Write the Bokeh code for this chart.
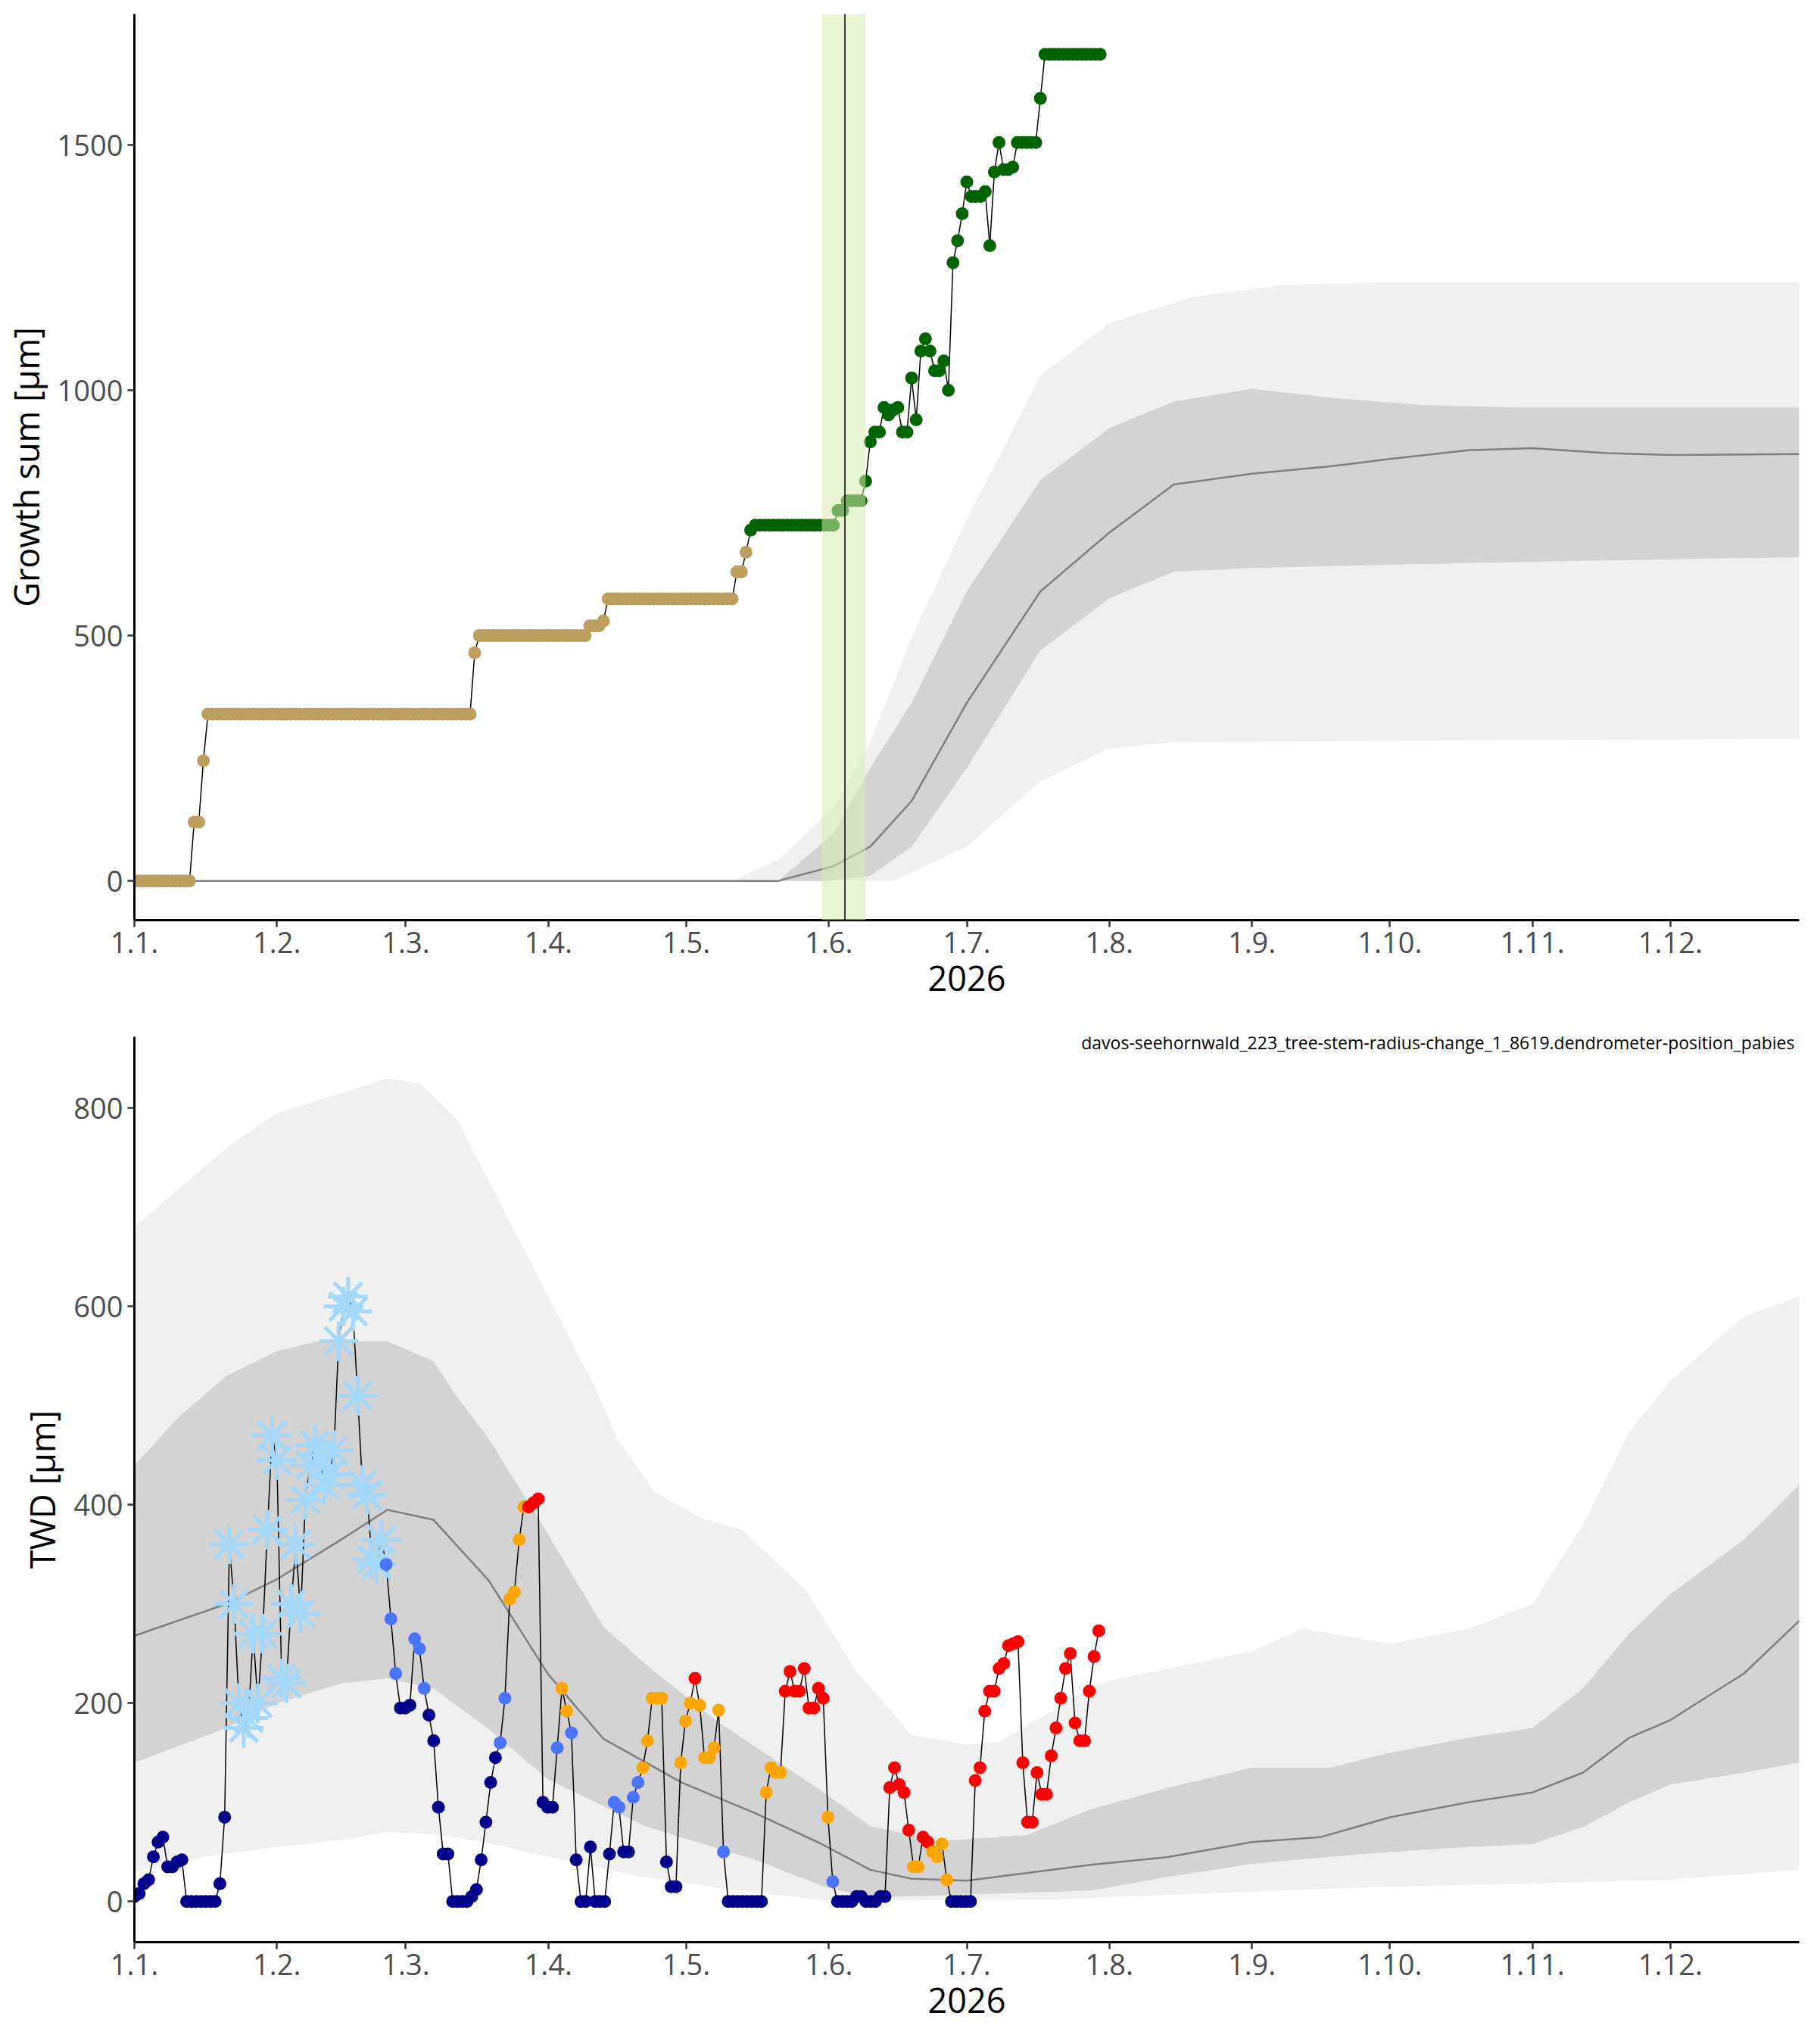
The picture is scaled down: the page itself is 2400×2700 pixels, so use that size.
import numpy as np
from bokeh.plotting import figure
from bokeh.layouts import column
from bokeh.models import FixedTicker, Range1d, Label, Span, BoxAnnotation
from bokeh.embed import file_html
from bokeh.resources import INLINE

month_days = [0, 31, 59, 90, 120, 151, 181, 212, 243, 273, 304, 334]
month_labels = ["1.1.", "1.2.", "1.3.", "1.4.", "1.5.", "1.6.", "1.7.", "1.8.", "1.9.", "1.10.", "1.11.", "1.12."]

# ---- Growth sum (top) ----
gro_segments = [(0, 12, 0), (13, 14, 120), (15, 15, 245), (16, 73, 340), (74, 74, 465), (75, 98, 500),
                (99, 101, 520), (102, 102, 530), (103, 130, 575), (131, 132, 630), (133, 133, 670),
                (134, 134, 715), (135, 152, 725), (153, 154, 755), (155, 158, 775), (159, 159, 815),
                (160, 160, 895), (161, 162, 915), (163, 163, 965), (164, 164, 950), (165, 165, 960),
                (166, 166, 965), (167, 168, 915), (169, 169, 1025), (170, 170, 940), (171, 171, 1080),
                (172, 172, 1105), (173, 173, 1080), (174, 175, 1040), (176, 176, 1060), (177, 177, 1000),
                (178, 178, 1260), (179, 179, 1305), (180, 180, 1360), (181, 181, 1425), (182, 184, 1395),
                (185, 185, 1405), (186, 186, 1295), (187, 187, 1445), (188, 188, 1505), (189, 190, 1450),
                (191, 191, 1455), (192, 196, 1505), (197, 197, 1595), (198, 210, 1685)]
gro_green_from = 134

gro_med_d = [0, 140, 152, 160, 169, 181, 197, 212, 226, 243, 260, 273, 290, 304, 320, 334, 362]
gro_med_v = [0, 0, 30, 70, 163, 363, 590, 710, 808, 830, 845, 860, 878, 882, 872, 868, 870]
gro_in_up_d = [0, 140, 152, 160, 169, 181, 197, 212, 226, 243, 260, 280, 300, 362]
gro_in_up = [0, 0, 96, 230, 363, 590, 817, 923, 977, 1003, 985, 970, 965, 965]
gro_in_lo_d = [0, 150, 160, 169, 181, 197, 212, 226, 243, 300, 362]
gro_in_lo = [0, 0, 10, 70, 230, 470, 576, 630, 638, 650, 660]
gro_out_up_d = [0, 130, 140, 152, 160, 169, 181, 190, 197, 212, 230, 250, 270, 362]
gro_out_up = [0, 0, 43, 150, 283, 496, 737, 900, 1030, 1137, 1190, 1215, 1220, 1220]
gro_out_lo_d = [0, 165, 181, 197, 212, 226, 362]
gro_out_lo = [0, 0, 70, 203, 270, 283, 290]

# ---- TWD (bottom) ----
twd_vals = [5, 8, 18, 22, 45, 60, 65, 35, 35, 40, 42, 0, 0, 0, 0, 0, 0, 0, 18, 85,
            360, 300, 200, 175, 185, 270, 200, 270, 375, 470, 445, 225, 220, 300, 360, 290, 405, 440, 460, 450,
            420, 430, 455, 565, 600, 610, 595, 510, 420, 410, 345, 340, 365, 340, 285, 230, 195, 195, 198, 265,
            255, 215, 188, 162, 95, 48, 48, 0, 0, 0, 0, 5, 12, 42, 80, 120, 145, 160, 205, 305,
            312, 365, 398, 398, 402, 406, 100, 95, 95, 155, 215, 192, 170, 42, 0, 0, 55, 0, 0, 0,
            48, 100, 95, 50, 50, 105, 120, 135, 162, 205, 205, 205, 40, 15, 15, 140, 182, 200, 225, 198,
            145, 145, 155, 193, 50, 0, 0, 0, 0, 0, 0, 0, 0, 110, 135, 130, 130, 212, 232, 212,
            212, 235, 195, 195, 215, 205, 85, 20, 0, 0, 0, 0, 5, 5, 0, 0, 0, 5, 5, 115,
            135, 118, 110, 72, 35, 35, 65, 60, 50, 45, 58, 22, 0, 0, 0, 0, 0, 122, 135, 192,
            212, 212, 235, 240, 258, 260, 262, 140, 80, 80, 130, 108, 108, 147, 175, 205, 235, 250, 180, 162,
            162, 212, 247, 273]
twd_cat = ("n" * 20
           + "s" * 20
           + "s" * 13 + "bbb" + "nnn" + "b"
           + "bb" + "n" * 15 + "bbo"
           + "ooo" + "rrr" + "nnn" + "b" + "oo" + "b" + "n" * 7
           + "nbbnnbb" + "ooooo" + "nnn" + "ooo" + "r" + "o"
           + "oooo" + "b" + "n" * 8 + "oooo" + "rrr"
           + "rrrrrr" + "o" + "b" + "n" * 11 + "r"
           + "rrrr" + "oo" + "rr" + "oooo" + "nnnnn" + "rrr"
           + "r" * 24)
twd_day_scale = 209.7 / 203.0

twd_med_d = [0, 20, 31, 45, 55, 65, 77, 90, 102, 119, 135, 149, 160, 169, 181, 208, 225, 243, 258, 273, 290, 304, 315, 325, 334, 350, 362]
twd_med_v = [268, 300, 325, 365, 395, 385, 324, 229, 164, 120, 89, 59, 32, 23, 21, 37, 45, 60, 65, 85, 100, 110, 130, 165, 183, 230, 283]
twd_in_d = [0, 10, 20, 31, 40, 55, 65, 70, 77, 90, 102, 113, 127, 149, 160, 175, 194, 208, 225, 243, 260, 273, 290, 304, 315, 325, 334, 350, 362]
twd_in_up = [440, 490, 530, 555, 565, 565, 545, 510, 467, 370, 277, 232, 181, 113, 76, 61, 67, 93, 115, 135, 135, 150, 165, 175, 215, 270, 310, 365, 420]
twd_in_lo_d = [0, 20, 31, 45, 55, 65, 77, 90, 111, 135, 150, 160, 208, 225, 243, 260, 273, 290, 304, 315, 325, 334, 350, 362]
twd_in_lo = [140, 175, 200, 220, 225, 215, 174, 123, 76, 42, 15, 4, 11, 25, 38, 45, 50, 55, 58, 75, 100, 118, 130, 140]
twd_out_d = [0, 20, 31, 45, 55, 62, 70, 80, 90, 100, 105, 113, 124, 132, 146, 157, 169, 181, 188, 208, 212, 243, 254, 273, 290, 304, 315, 325, 334, 350, 362]
twd_out_up = [680, 760, 795, 815, 830, 825, 790, 700, 610, 520, 467, 413, 385, 375, 314, 232, 168, 158, 161, 215, 223, 252, 275, 260, 275, 300, 380, 473, 525, 590, 610]
twd_out_lo_d = [0, 15, 31, 45, 55, 65, 77, 90, 110, 130, 150, 200, 243, 273, 304, 334, 362]
twd_out_lo = [30, 45, 55, 62, 70, 68, 59, 45, 25, 12, 1, 2, 10, 15, 18, 22, 32]

subtitle = "davos-seehornwald_223_tree-stem-radius-change_1_8619.dendrometer-position_pabies"
cat_colors = {"n": "#00008B", "b": "#4A74FF", "o": "#FFA500", "r": "#FF0000"}

FONT = "Open Sans"


def style(p, ylabel):
    p.xaxis.ticker = FixedTicker(ticks=month_days)
    p.xaxis.major_label_overrides = {d: l for d, l in zip(month_days, month_labels)}
    for ax in (p.xaxis[0], p.yaxis[0]):
        ax.axis_line_width = 3
        ax.axis_line_color = "black"
        ax.major_tick_line_width = 2.5
        ax.major_tick_line_color = "#333333"
        ax.major_tick_out = 9
        ax.major_tick_in = 0
        ax.minor_tick_line_color = None
        ax.major_label_text_font = FONT
        ax.major_label_text_font_size = "38px"
        ax.major_label_text_color = "#4D4D4D"
        ax.major_label_standoff = 6
        ax.axis_label_text_font = FONT
        ax.axis_label_text_font_size = "45px"
        ax.axis_label_text_font_style = "normal"
        ax.axis_label_text_color = "black"
        ax.axis_label_standoff = 8
    p.xaxis.axis_label_standoff = 14
    p.xaxis.axis_label = "2026"
    p.yaxis.axis_label = ylabel
    p.xgrid.visible = False
    p.ygrid.visible = False
    p.outline_line_color = None


def band(p, xl, lo, xu, up, color):
    xs = list(np.linspace(0, 362, 363))
    l = np.interp(xs, xl, lo)
    u = np.interp(xs, xu, up)
    p.varea(x=xs, y1=l, y2=u, fill_color=color)


# ---------- top figure ----------
p1 = figure(width=2384, height=1330, output_backend="svg", toolbar_location=None,
            x_range=Range1d(0, 362), y_range=Range1d(-80, 1767),
            min_border_left=173, min_border_right=8, min_border_top=18, min_border_bottom=115)
style(p1, "Growth sum [µm]")
p1.yaxis.ticker = FixedTicker(ticks=[0, 500, 1000, 1500])
band(p1, gro_out_lo_d, gro_out_lo, gro_out_up_d, gro_out_up, "#F0F0F0")
band(p1, gro_in_lo_d, gro_in_lo, gro_in_up_d, gro_in_up, "#D3D3D3")
p1.line(gro_med_d, gro_med_v, line_color="#7F7F7F", line_width=2.5)
p1.add_layout(BoxAnnotation(left=149.5, right=159, fill_color="#D7EDB0", fill_alpha=0.55, line_color=None))
p1.add_layout(Span(location=154.5, dimension="height", line_color="black", line_width=1.5))

gd, gv = [], []
for a, b, v in gro_segments:
    for d in range(a, b + 1):
        gd.append(d)
        gv.append(v)
p1.line(gd, gv, line_color="black", line_width=1.5)
gcol = ["#BC9F5F" if d < gro_green_from else "#006400" for d in gd]
p1.scatter(gd, gv, size=17, fill_color=gcol, line_color=None)

# ---------- bottom figure ----------
p2 = figure(width=2384, height=1350, output_backend="svg", toolbar_location=None,
            x_range=Range1d(0, 362), y_range=Range1d(-41, 872),
            min_border_left=173, min_border_right=8, min_border_top=39, min_border_bottom=115)
style(p2, "TWD [µm]")
p2.yaxis.ticker = FixedTicker(ticks=[0, 200, 400, 600, 800])
band(p2, twd_out_lo_d, twd_out_lo, twd_out_d, twd_out_up, "#F0F0F0")
band(p2, twd_in_lo_d, twd_in_lo, twd_in_d, twd_in_up, "#D3D3D3")
p2.line(twd_med_d, twd_med_v, line_color="#7F7F7F", line_width=2.5)

n = len(twd_vals)
cats = (twd_cat + "r" * n)[:n]
td = [i * twd_day_scale for i in range(n)]
p2.line(td, twd_vals, line_color="black", line_width=1.5)
sx = [td[i] for i in range(n) if cats[i] == "s"]
sy = [twd_vals[i] for i in range(n) if cats[i] == "s"]
p2.scatter(sx, sy, marker="asterisk", size=52, line_color="#A3D8FA", line_width=5)
ox = [td[i] for i in range(n) if cats[i] != "s"]
oy = [twd_vals[i] for i in range(n) if cats[i] != "s"]
oc = [cat_colors[cats[i]] for i in range(n) if cats[i] != "s"]
p2.scatter(ox, oy, size=17, fill_color=oc, line_color=None)
p2.add_layout(Label(x=361, y=866, text=subtitle, text_align="right", text_baseline="middle",
                    text_font=FONT, text_font_size="23px", text_color="black"))

open("out.html", "w").write(file_html(column(p1, p2, spacing=0), INLINE))
